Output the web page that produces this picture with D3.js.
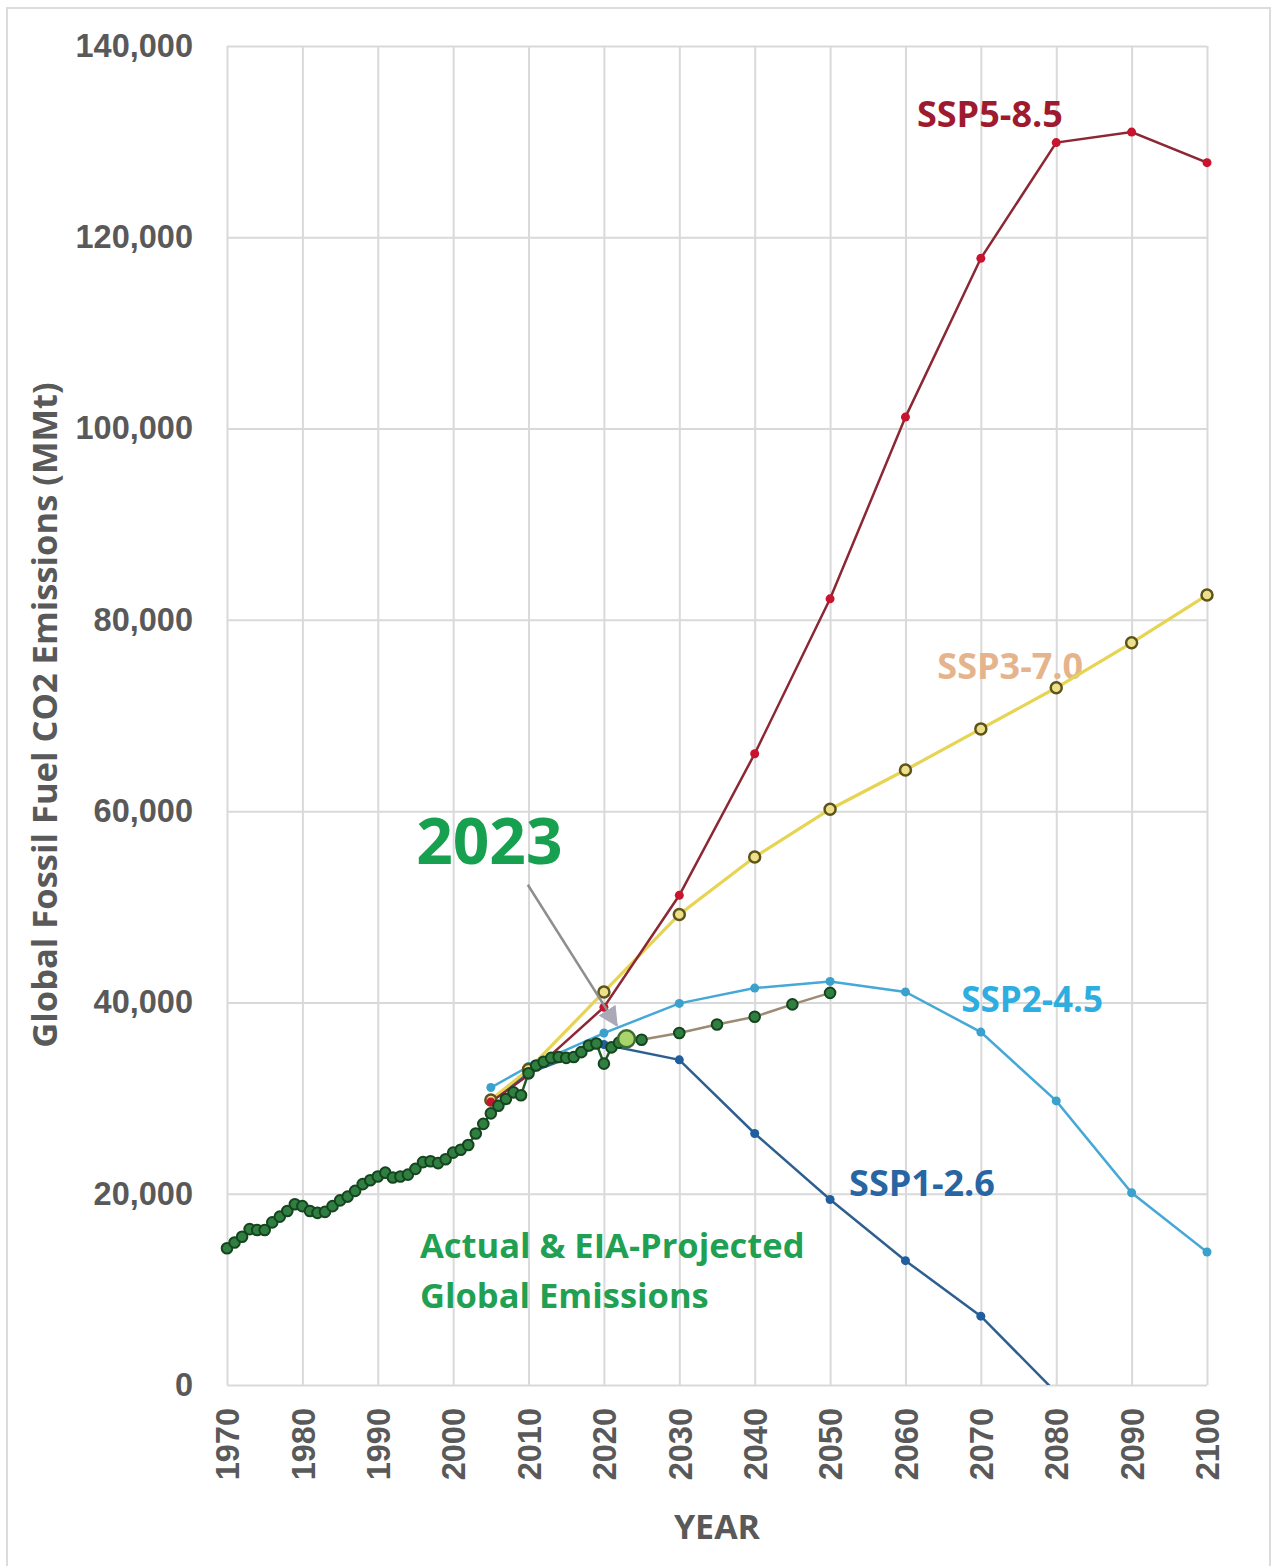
<!DOCTYPE html>
<html>
<head>
<meta charset="utf-8">
<script src="https://cdn.jsdelivr.net/npm/d3@7"></script>
<style>
  body { margin: 0; background: #fff; }
  svg { display: block; font-family: "Open Sans", sans-serif; font-weight: bold; }
</style>
</head>
<body>
<svg id="chart"></svg>
<script>
// ---------------- data ----------------
var xTicks = [1970, 1980, 1990, 2000, 2010, 2020, 2030, 2040, 2050, 2060, 2070, 2080, 2090, 2100];
var yTicks = [0, 20000, 40000, 60000, 80000, 100000, 120000, 140000];

// actual global emissions (MMt)
var histYears = [1970, 1971, 1972, 1973, 1974, 1975, 1976, 1977, 1978, 1979,
                 1980, 1981, 1982, 1983, 1984, 1985, 1986, 1987, 1988, 1989,
                 1990, 1991, 1992, 1993, 1994, 1995, 1996, 1997, 1998, 1999,
                 2000, 2001, 2002, 2003, 2004, 2005, 2006, 2007, 2008, 2009,
                 2010, 2011, 2012, 2013, 2014, 2015, 2016, 2017, 2018, 2019,
                 2020, 2021, 2022];
var histValues = [14300, 14900, 15500, 16300, 16200, 16200, 17000, 17600, 18200, 18900,
                  18700, 18200, 18000, 18100, 18700, 19300, 19700, 20300, 21000, 21400,
                  21800, 22200, 21700, 21800, 22000, 22600, 23300, 23400, 23200, 23600,
                  24300, 24600, 25100, 26300, 27300, 28400, 29200, 29900, 30600, 30300,
                  32600, 33400, 33800, 34200, 34300, 34200, 34300, 34800, 35500, 35700,
                  33600, 35300, 35800];

// 2023 and EIA projection
var projYears = [2023, 2025, 2030, 2035, 2040, 2045, 2050];
var projValues = [36200, 36100, 36800, 37700, 38500, 39800, 41000];

// SSP scenarios
var sspYears = [2005, 2010, 2020, 2030, 2040, 2050, 2060, 2070, 2080, 2090, 2100];
var ssp585 = [29600, 32400, 39500, 51200, 66000, 82200, 101200, 117800, 129900, 131000, 127800];
var ssp370 = [29800, 33000, 41100, 49200, 55200, 60200, 64300, 68600, 72900, 77600, 82600];
var ssp245 = [31100, 33300, 36800, 39900, 41500, 42200, 41100, 36900, 29700, 20100, 13900];
var ssp126Years = [2005, 2010, 2020, 2030, 2040, 2050, 2060, 2070, 2080];
var ssp126 = [29800, 32600, 35600, 34000, 26300, 19400, 13000, 7200, -800];

// ---------------- setup ----------------
var svg = d3.select('#chart').attr('width', 1275).attr('height', 1566);
var x = d3.scaleLinear().domain([1970, 2100]).range([227, 1207]);
var y = d3.scaleLinear().domain([0, 140000]).range([1385, 46]);
var zip = function(xs, ys){ return xs.map(function(v, i){ return [v, ys[i]]; }); };
var line = d3.line().x(function(d){ return x(d[0]); }).y(function(d){ return y(d[1]); });

// outer frame
svg.append('rect')
  .attr('x', 7).attr('y', 8).attr('width', 1263).attr('height', 1580)
  .attr('fill', 'none').attr('stroke', '#dcdcdc').attr('stroke-width', 2);

svg.append('clipPath').attr('id', 'plot')
  .append('rect').attr('x', x(1970)).attr('y', y(140000))
  .attr('width', x(2100) - x(1970)).attr('height', y(0) - y(140000));

// ---------------- axes + grid ----------------
var xAxis = svg.append('g').attr('transform', 'translate(0,' + y(0) + ')')
  .call(d3.axisBottom(x).tickValues(xTicks).tickFormat(d3.format('d'))
        .tickSize(-(y(0) - y(140000))));
xAxis.select('.domain').remove();
xAxis.selectAll('line').attr('stroke', '#d9d9d9').attr('stroke-width', 2);
xAxis.selectAll('text')
  .attr('transform', 'rotate(-90)')
  .attr('x', -23).attr('y', 0).attr('dy', '0.36em')
  .attr('text-anchor', 'end')
  .attr('fill', '#595959').attr('font-size', 32.5).attr('font-family', null);

var yAxis = svg.append('g').attr('transform', 'translate(' + x(1970) + ',0)')
  .call(d3.axisLeft(y).tickValues(yTicks).tickFormat(d3.format(','))
        .tickSize(-(x(2100) - x(1970))).tickPadding(34));
yAxis.select('.domain').remove();
yAxis.selectAll('line').attr('stroke', '#d9d9d9').attr('stroke-width', 2);
yAxis.selectAll('text')
  .attr('fill', '#595959').attr('font-size', 32.5).attr('font-family', null);

// axis titles
svg.append('text')
  .attr('transform', 'translate(45,715) rotate(-90)')
  .attr('text-anchor', 'middle').attr('dy', '0.35em')
  .attr('fill', '#595959').attr('font-size', 34.5)
  .text('Global Fossil Fuel CO2 Emissions (MMt)');
svg.append('text')
  .attr('x', 717).attr('y', 1527).attr('dy', '0.35em')
  .attr('text-anchor', 'middle')
  .attr('fill', '#595959').attr('font-size', 34)
  .text('YEAR');

// ---------------- labels under lines ----------------
var label = function(txt, yr, val, col, size, anchor){
  return svg.append('text')
    .attr('x', x(yr)).attr('y', y(val)).attr('dy', '0.35em')
    .attr('text-anchor', anchor || 'middle')
    .attr('fill', col).attr('font-size', size)
    .text(txt);
};
label('SSP3-7.0', 2073.9, 75100, '#e5b48c', 36);

// ---------------- series ----------------
var plot = svg.append('g').attr('clip-path', 'url(#plot)');
var dots = svg.append('g');

var series = [
  {pts: zip(ssp126Years, ssp126), line: '#2d6090', dot: '#1f5f9f', r: 4.5},
  {pts: zip(sspYears, ssp245), line: '#45a8d6', dot: '#3aa0cc', r: 4.5},
  {pts: zip(sspYears, ssp370), line: '#e6d452', dot: '#ece08a', r: 5.5, ring: '#5e5419'},
  {pts: zip(sspYears, ssp585), line: '#8c2734', dot: '#c8142e', r: 4.5}
];

series.forEach(function(s){
  plot.append('path').datum(s.pts)
    .attr('d', line).attr('fill', 'none')
    .attr('stroke', s.line).attr('stroke-width', s.ring ? 3.2 : 2.5);
});

// actual emissions line + projection line
var hist = zip(histYears, histValues);
var proj = zip(projYears, projValues);
plot.append('path').datum(hist)
  .attr('d', line).attr('fill', 'none').attr('stroke', '#1e5a2a').attr('stroke-width', 2.5);
plot.append('path').datum([hist[hist.length - 1]].concat(proj))
  .attr('d', line).attr('fill', 'none').attr('stroke', '#9c8b70').attr('stroke-width', 2.5);

series.forEach(function(s){
  dots.selectAll(null).data(s.pts.filter(function(d){ return d[1] >= 0; })).enter().append('circle')
    .attr('cx', function(d){ return x(d[0]); })
    .attr('cy', function(d){ return y(d[1]); })
    .attr('r', s.r)
    .attr('fill', s.dot)
    .attr('stroke', s.ring || 'none').attr('stroke-width', s.ring ? 2.5 : 0);
});

dots.selectAll(null).data(hist.concat(proj.slice(1))).enter().append('circle')
  .attr('cx', function(d){ return x(d[0]); })
  .attr('cy', function(d){ return y(d[1]); })
  .attr('r', 5.3)
  .attr('fill', '#2f8040').attr('stroke', '#16441f').attr('stroke-width', 2);

// 2023 highlight
dots.selectAll(null).data(proj.slice(0, 1)).enter().append('circle')
  .attr('cx', function(d){ return x(d[0]); })
  .attr('cy', function(d){ return y(d[1]); })
  .attr('r', 8.5)
  .attr('fill', '#a8d46e').attr('stroke', '#3e6d2b').attr('stroke-width', 2.5);

// ---------------- annotations ----------------
label('SSP5-8.5', 2071.2, 132800, '#9e1a2e', 36);
label('SSP2-4.5', 2076.8, 40300, '#2eaee0', 35);
label('SSP1-2.6', 2062.2, 21100, '#2865a3', 36);
label('2023', 2004.8, 56800, '#17a04f', 64);
label('Actual & EIA-Projected', 1995.6, 14500, '#1fa052', 34.5, 'start');
label('Global Emissions', 1995.6, 9300, '#1fa052', 34.5, 'start');

svg.append('defs').append('marker')
  .attr('id', 'head').attr('viewBox', '0 0 10 10')
  .attr('refX', 9).attr('refY', 5)
  .attr('markerWidth', 8).attr('markerHeight', 8)
  .attr('markerUnits', 'strokeWidth')
  .attr('orient', 'auto')
  .append('path').attr('d', 'M0,0 L10,5 L0,10 z').attr('fill', '#a9a9b8');

var arrowPts = [[2009.9, 52300], [2021.7, 37600]];
svg.append('path').datum(arrowPts)
  .attr('d', line).attr('fill', 'none')
  .attr('stroke', '#8e8e8e').attr('stroke-width', 2.5)
  .attr('marker-end', 'url(#head)');
</script>
</body>
</html>
